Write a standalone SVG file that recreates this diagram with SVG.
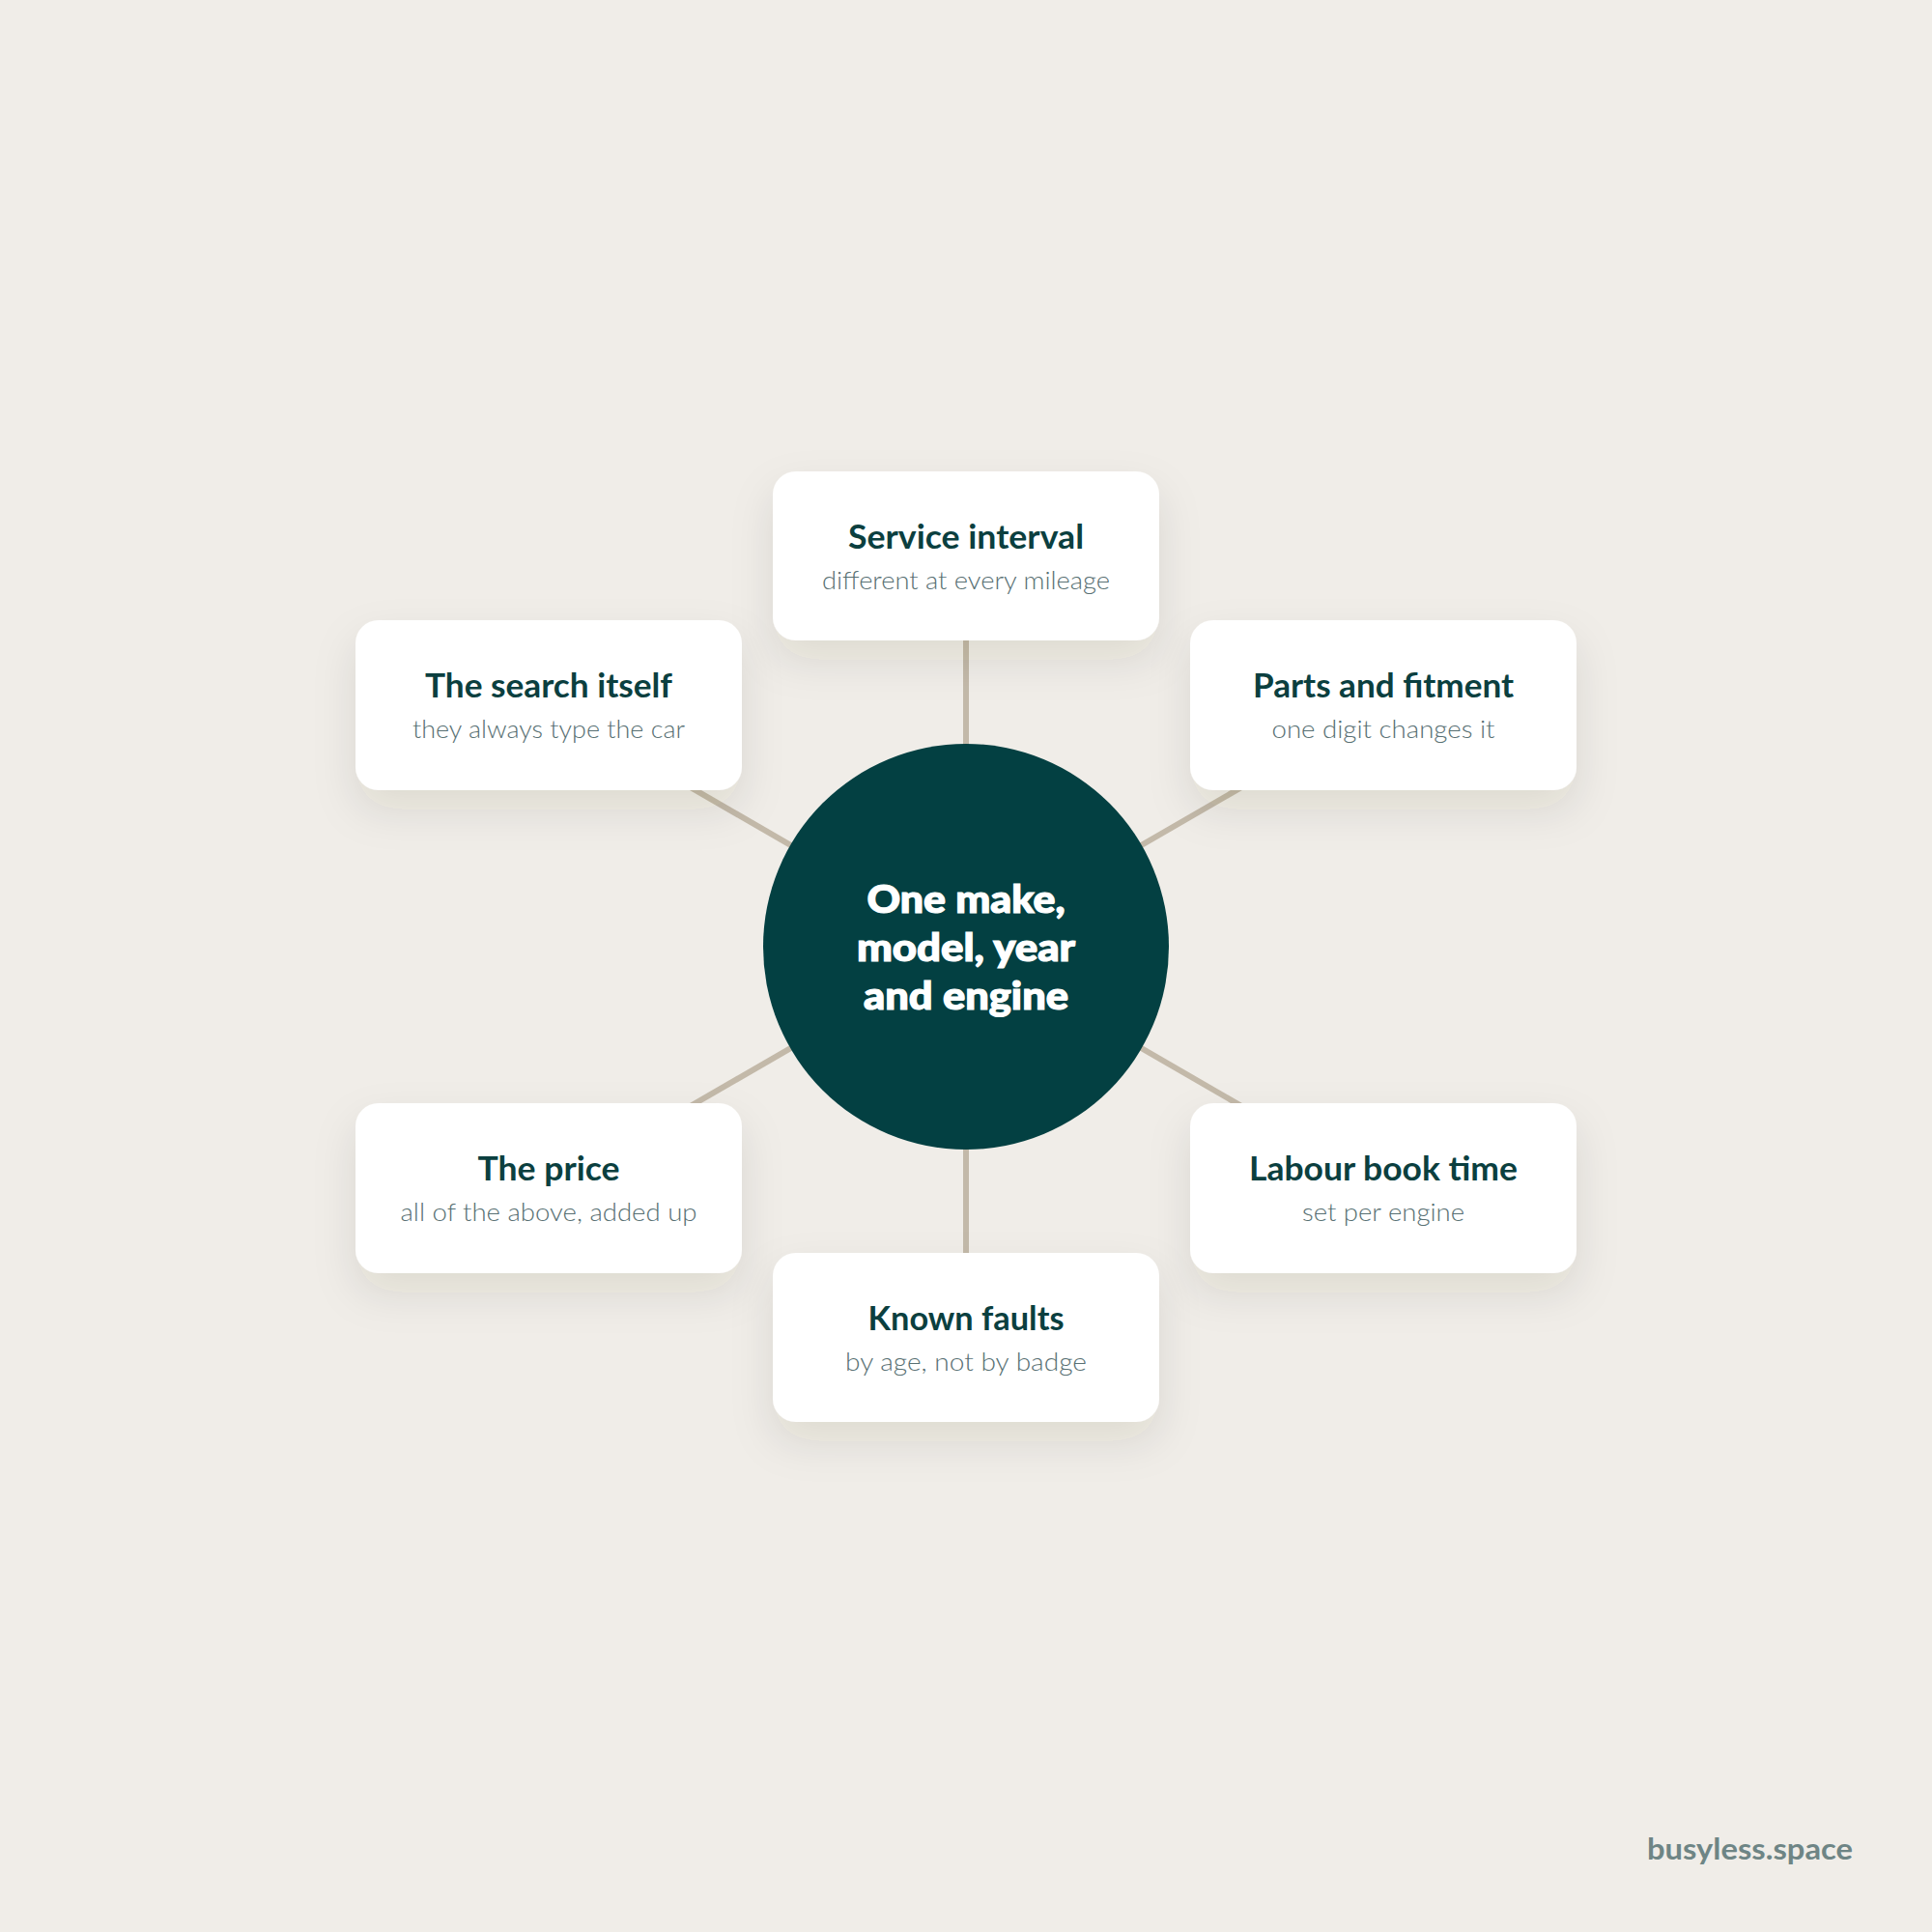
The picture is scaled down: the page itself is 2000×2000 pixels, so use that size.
<svg xmlns="http://www.w3.org/2000/svg" width="2000" height="2000" viewBox="0 0 2000 2000">
<defs>
<filter id="sh" x="-30%" y="-40%" width="160%" height="200%">
<feDropShadow dx="0" dy="20" stdDeviation="22" flood-color="#3a3020" flood-opacity="0.10"/>
</filter>
<style>
.box{fill:#ffffff;filter:url(#sh)}
.t{font-family:Lato,"Noto Sans","Liberation Sans",sans-serif;font-weight:700;font-size:35px;fill:#0b3f3f;text-anchor:middle}
.s{font-family:Lato,"Noto Sans","Liberation Sans",sans-serif;font-weight:300;font-size:26px;fill:#587073;text-anchor:middle}
.c{font-family:Lato,"Noto Sans","Liberation Sans",sans-serif;font-weight:900;font-size:39px;fill:#ffffff;stroke:#ffffff;stroke-width:1.2;text-anchor:middle}
.ln{stroke:#c3b9a9;stroke-width:6;fill:none}
</style>
</defs>
<rect width="2000" height="2000" fill="#f0ede8"/>
<g id="connectors">
<line class="ln" x1="1000" y1="980" x2="1000" y2="575"/>
<line class="ln" x1="1000" y1="980" x2="568" y2="730"/>
<line class="ln" x1="1000" y1="980" x2="1432" y2="730"/>
<line class="ln" x1="1000" y1="980" x2="568" y2="1230"/>
<line class="ln" x1="1000" y1="980" x2="1432" y2="1230"/>
<line class="ln" x1="1000" y1="980" x2="1000" y2="1385"/>
</g>
<g id="center">
<circle cx="1000" cy="980" r="210" fill="#034042"/>
<text class="c" x="1000" y="945" textLength="205" lengthAdjust="spacingAndGlyphs">One make,</text>
<text class="c" x="1000" y="995" textLength="226" lengthAdjust="spacingAndGlyphs">model, year</text>
<text class="c" x="1000" y="1045" textLength="212" lengthAdjust="spacingAndGlyphs">and engine</text>
</g>
<g id="service">
<rect class="box" x="800" y="488" width="400" height="175" rx="24"/>
<text class="t" x="1000" y="568" textLength="244" lengthAdjust="spacingAndGlyphs">Service interval</text>
<text class="s" x="1000" y="610" textLength="298" lengthAdjust="spacingAndGlyphs">different at every mileage</text>
</g>
<g id="search">
<rect class="box" x="368" y="642" width="400" height="176" rx="24"/>
<text class="t" x="568" y="722" textLength="256" lengthAdjust="spacingAndGlyphs">The search itself</text>
<text class="s" x="568" y="764" textLength="282" lengthAdjust="spacingAndGlyphs">they always type the car</text>
</g>
<g id="parts">
<rect class="box" x="1232" y="642" width="400" height="176" rx="24"/>
<text class="t" x="1432" y="722" textLength="270" lengthAdjust="spacingAndGlyphs">Parts and fitment</text>
<text class="s" x="1432" y="764" textLength="231" lengthAdjust="spacingAndGlyphs">one digit changes it</text>
</g>
<g id="price">
<rect class="box" x="368" y="1142" width="400" height="176" rx="24"/>
<text class="t" x="568" y="1222" textLength="147" lengthAdjust="spacingAndGlyphs">The price</text>
<text class="s" x="568" y="1264" textLength="307" lengthAdjust="spacingAndGlyphs">all of the above, added up</text>
</g>
<g id="labour">
<rect class="box" x="1232" y="1142" width="400" height="176" rx="24"/>
<text class="t" x="1432" y="1222" textLength="278" lengthAdjust="spacingAndGlyphs">Labour book time</text>
<text class="s" x="1432" y="1264" textLength="168" lengthAdjust="spacingAndGlyphs">set per engine</text>
</g>
<g id="known">
<rect class="box" x="800" y="1297" width="400" height="175" rx="24"/>
<text class="t" x="1000" y="1377" textLength="203" lengthAdjust="spacingAndGlyphs">Known faults</text>
<text class="s" x="1000" y="1419" textLength="250" lengthAdjust="spacingAndGlyphs">by age, not by badge</text>
</g>
<text x="1918" y="1925" text-anchor="end" font-family="Lato,'Noto Sans','Liberation Sans',sans-serif" font-weight="700" font-size="30" fill="#6e8585" textLength="213" lengthAdjust="spacingAndGlyphs">busyless.space</text>
</svg>
